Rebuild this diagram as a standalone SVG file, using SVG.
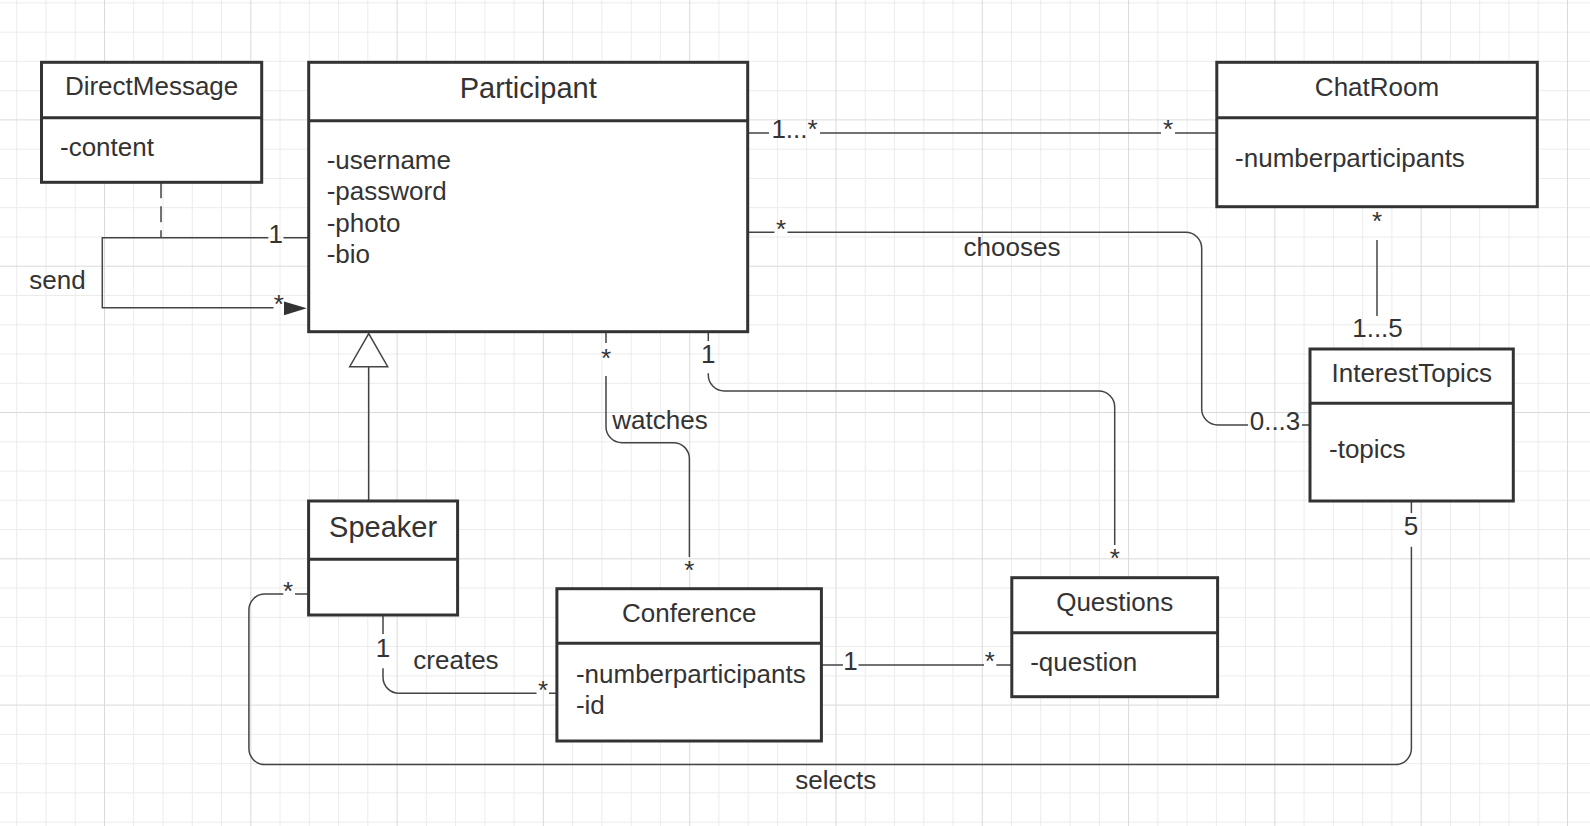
<svg xmlns="http://www.w3.org/2000/svg" width="1590" height="826" viewBox="0 0 1590 826">
<style>
.box{fill:#fff;stroke:#333;stroke-width:3}
.dv{stroke:#333;stroke-width:3;fill:none}
.t{font-family:"Liberation Sans",Arial,sans-serif;font-size:26px;fill:#333}
.big{font-size:29px}
.c{text-anchor:middle}
.ln{fill:none;stroke:#444;stroke-width:1.5}
.gmin{stroke:#ececec;stroke-width:1;fill:none}
.gmaj{stroke:#dadada;stroke-width:1;fill:none}
</style>
<rect width="1590" height="826" fill="#fff"/>
<g id="grid">
<path class="gmin" d="M16.7 0V826M46 0V826M75.2 0V826M133.7 0V826M163 0V826M192.3 0V826M221.5 0V826M280 0V826M309.3 0V826M338.6 0V826M367.8 0V826M426.3 0V826M455.6 0V826M484.9 0V826M514.1 0V826M572.6 0V826M601.9 0V826M631.2 0V826M660.4 0V826M718.9 0V826M748.2 0V826M777.5 0V826M806.7 0V826M865.2 0V826M894.5 0V826M923.8 0V826M953 0V826M1011.5 0V826M1040.8 0V826M1070.1 0V826M1099.3 0V826M1157.8 0V826M1187.1 0V826M1216.4 0V826M1245.6 0V826M1304.1 0V826M1333.4 0V826M1362.7 0V826M1391.9 0V826M1450.4 0V826M1479.7 0V826M1509 0V826M1538.2 0V826M0 2.9H1590M0 32.2H1590M0 61.4H1590M0 90.7H1590M0 149.2H1590M0 178.5H1590M0 207.7H1590M0 237H1590M0 295.5H1590M0 324.8H1590M0 354H1590M0 383.3H1590M0 441.8H1590M0 471.1H1590M0 500.3H1590M0 529.6H1590M0 588.1H1590M0 617.4H1590M0 646.6H1590M0 675.9H1590M0 734.4H1590M0 763.7H1590M0 792.9H1590M0 822.2H1590"/>
<path class="gmaj" d="M104.5 0V826M250.8 0V826M397.1 0V826M543.4 0V826M689.7 0V826M836 0V826M982.3 0V826M1128.6 0V826M1274.9 0V826M1421.2 0V826M1567.5 0V826M0 119.9H1590M0 266.2H1590M0 412.5H1590M0 558.8H1590M0 705.1H1590"/>
</g>
<g id="connectors">
<path class="ln" d="M161 182.3V237.7" stroke-dasharray="16 8"/>
<path class="ln" d="M308.7 237.7H283.5M268.3 237.7H102.3V307.8H273.5"/>
<polygon points="284,301.5 306.8,308.3 284,315.3" fill="#333"/>
<text class="t c" x="57.5" y="289.3">send</text>
<text class="t c" x="275.8" y="243.3">1</text>
<text class="t c" x="278.7" y="313.3">*</text>
<path class="ln" d="M747.7 133H769M820 133H1161M1175 133H1216.8"/>
<text class="t" x="771.4" y="138.3">1...*</text>
<text class="t c" x="1168" y="138.3">*</text>
<path class="ln" d="M747.7 232.3H774.5M787.5 232.3H1185.7A16 16 0 0 1 1201.7 248.3V409A16 16 0 0 0 1217.7 425H1248M1302 425H1310"/>
<text class="t c" x="781" y="237.7">*</text>
<text class="t c" x="1012" y="256">chooses</text>
<text class="t c" x="1275" y="430">0...3</text>
<path class="ln" d="M1377 240V316"/>
<text class="t c" x="1377" y="229.7">*</text>
<text class="t c" x="1377.5" y="336.7">1...5</text>
<path class="ln" d="M1411.4 501V513M1411.4 546.7V748.6A16 16 0 0 1 1395.4 764.6H264.9A16 16 0 0 1 248.9 748.6V610A16 16 0 0 1 264.9 594H283.3M295 594H308.6"/>
<text class="t c" x="1411" y="535">5</text>
<text class="t c" x="288" y="599.7">*</text>
<text class="t c" x="835.8" y="789.3">selects</text>
<path class="ln" d="M606 331.7V343M606 376V426.7A16 16 0 0 0 622 442.7H673.4A16 16 0 0 1 689.4 458.7V557"/>
<text class="t c" x="606" y="367.3">*</text>
<text class="t c" x="660" y="429.3">watches</text>
<text class="t c" x="689.4" y="578.5">*</text>
<path class="ln" d="M708.3 331.7V341M708.3 373.3V375A16 16 0 0 0 724.3 391H1098.7A16 16 0 0 1 1114.7 407V545"/>
<text class="t c" x="708.3" y="362.7">1</text>
<text class="t c" x="1114.7" y="567">*</text>
<path class="ln" d="M383 615V634M383 668.3V677.3A16 16 0 0 0 399 693.3H536.5M549 693.3H556.9"/>
<text class="t c" x="383" y="656.7">1</text>
<text class="t c" x="456" y="669.3">creates</text>
<text class="t c" x="543" y="699">*</text>
<path class="ln" d="M821.4 665H843M858.5 665H984M996.3 665H1011.8"/>
<text class="t c" x="850.5" y="670">1</text>
<text class="t c" x="989.7" y="670">*</text>
<path class="ln" d="M368.7 366.7V501"/>
<polygon points="368.7,333.6 349.7,366.7 387.7,366.7" fill="#fff" stroke="#444" stroke-width="1.5"/>
</g>
<g id="DirectMessage">
<rect class="box" x="41.5" y="62.3" width="220.2" height="120"/>
<path class="dv" d="M41.5 117.7H261.7"/>
<text class="t c" x="151.6" y="95.3">DirectMessage</text>
<text class="t" x="60" y="155.7">-content</text>
</g>
<g id="Participant">
<rect class="box" x="308.7" y="62.3" width="439" height="269.4"/>
<path class="dv" d="M308.7 120.7H747.7"/>
<text class="t big c" x="528.2" y="98.3">Participant</text>
<text class="t" x="326.7" y="169">-username</text>
<text class="t" x="326.7" y="200.3">-password</text>
<text class="t" x="326.7" y="231.6">-photo</text>
<text class="t" x="326.7" y="262.9">-bio</text>
</g>
<g id="ChatRoom">
<rect class="box" x="1216.8" y="62.3" width="320.5" height="144.4"/>
<path class="dv" d="M1216.8 117.7H1537.3"/>
<text class="t c" x="1377" y="95.5">ChatRoom</text>
<text class="t" x="1235.1" y="166.5">-numberparticipants</text>
</g>
<g id="InterestTopics">
<rect class="box" x="1310" y="349" width="203.3" height="152"/>
<path class="dv" d="M1310 403.3H1513.3"/>
<text class="t c" x="1411.7" y="381.7">InterestTopics</text>
<text class="t" x="1329" y="458.3">-topics</text>
</g>
<g id="Speaker">
<rect class="box" x="308.6" y="501" width="149" height="114"/>
<path class="dv" d="M308.6 559.3H457.6"/>
<text class="t big c" x="383.1" y="536.7">Speaker</text>
</g>
<g id="Conference">
<rect class="box" x="556.9" y="588.7" width="264.5" height="152.3"/>
<path class="dv" d="M556.9 643.3H821.4"/>
<text class="t c" x="689.2" y="621.7">Conference</text>
<text class="t" x="575.9" y="682.7">-numberparticipants</text>
<text class="t" x="575.9" y="714">-id</text>
</g>
<g id="Questions">
<rect class="box" x="1011.8" y="577.7" width="205.8" height="119"/>
<path class="dv" d="M1011.8 632.7H1217.6"/>
<text class="t c" x="1114.7" y="610.7">Questions</text>
<text class="t" x="1030.2" y="671">-question</text>
</g>
</svg>
